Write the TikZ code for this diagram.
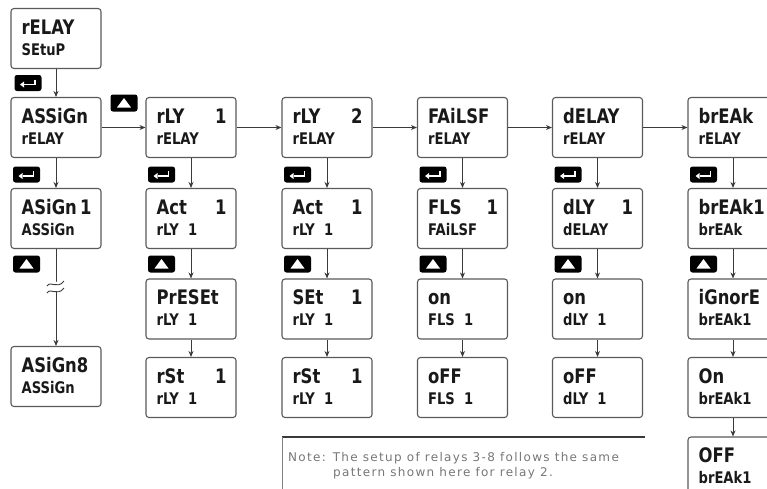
\documentclass[tikz,border=0pt]{standalone}
\usepackage{fontspec}
\setmainfont{DejaVu Sans}
\newfontfamily\lcdfont[FakeStretch=0.82]{DejaVu Sans}
\newfontfamily\notefont[LetterSpace=11]{DejaVu Sans}
\usetikzlibrary{arrows.meta}
\definecolor{boxgray}{HTML}{5A5A5A}
\definecolor{arrgray}{HTML}{3A3A3A}
\definecolor{notegray}{HTML}{777777}
\tikzset{
  dbox/.style={draw=boxgray, line width=1.1pt, rounded corners=3pt, minimum width=90pt, minimum height=60pt, inner sep=0pt, fill=white},
  ta/.style={inner sep=0pt, anchor=base west, text=black!90, font=\lcdfont\bfseries\fontsize{20}{20}\selectfont},
  tb/.style={inner sep=0pt, anchor=base west, text=black!90, font=\lcdfont\bfseries\fontsize{16}{16}\selectfont},
  arr/.style={draw=arrgray, line width=0.9pt, -{Stealth[length=6pt,width=5pt]}},
  keybox/.style={fill=black, rounded corners=2.5pt, minimum width=27pt, minimum height=16pt, inner sep=0pt},
  notetext/.style={inner sep=0pt, anchor=base west, text=notegray, font=\notefont\fontsize{12}{15}\selectfont}
}
\newcommand{\dispbox}[5]{%
  \node[dbox] (#1) at (#2,#3) {};
  \node[ta] (#1-a) at ([xshift=11pt,yshift=-26.5pt]#1.north west) {#4};
  \node[tb] (#1-b) at ([xshift=11pt,yshift=-47.5pt]#1.north west) {#5};
}
\newcommand{\enterkey}[3]{%
  \node[keybox] (#1) at (#2,#3) {};
  \draw[white, line width=1.4pt] ([xshift=7pt,yshift=3.5pt]#1.center) -- ([xshift=7pt,yshift=-1.5pt]#1.center) -- ([xshift=-4pt,yshift=-1.5pt]#1.center);
  \fill[white] ([xshift=-8pt,yshift=-1.5pt]#1.center) -- ([xshift=-4pt,yshift=1.5pt]#1.center) -- ([xshift=-4pt,yshift=-4.5pt]#1.center) -- cycle;
}
\newcommand{\upkey}[3]{%
  \node[keybox, minimum height=17pt] (#1) at (#2,#3) {};
  \fill[white] ([yshift=5pt]#1.center) -- ([xshift=-7pt,yshift=-4.5pt]#1.center) -- ([xshift=7pt,yshift=-4.5pt]#1.center) -- cycle;
}
\newcommand{\one}[2]{\hbox to 70pt{#1\hfill #2}}
\begin{document}
\begin{tikzpicture}[x=1pt,y=-1pt]
\clip (0,0) rectangle (767,488);
\fill[white] (0,0) rectangle (767,488);

% top
\dispbox{top}{56}{38.5}{rELAY}{SEtuP}
% column 1
\dispbox{c1a}{56}{127.5}{ASSiGn}{rELAY}
\dispbox{c1b}{56}{218.5}{\one{ASiGn}{1}}{ASSiGn}
\dispbox{c1c}{56}{376.5}{ASiGn8}{ASSiGn}
% column 2
\dispbox{c2a}{191}{127.5}{\one{rLY}{1}}{rELAY}
\dispbox{c2b}{191}{218.5}{\one{Act}{1}}{rLY\ \ 1}
\dispbox{c2c}{191}{309}{PrESEt}{rLY\ \ 1}
\dispbox{c2d}{191}{387.5}{\one{rSt}{1}}{rLY\ \ 1}
% column 3
\dispbox{c3a}{327}{127.5}{\one{rLY}{2}}{rELAY}
\dispbox{c3b}{327}{218.5}{\one{Act}{1}}{rLY\ \ 1}
\dispbox{c3c}{327}{309}{\one{SEt}{1}}{rLY\ \ 1}
\dispbox{c3d}{327}{387.5}{\one{rSt}{1}}{rLY\ \ 1}
% column 4
\dispbox{c4a}{462.5}{127.5}{FAiLSF}{rELAY}
\dispbox{c4b}{462.5}{218.5}{\one{FLS}{1}}{FAiLSF}
\dispbox{c4c}{462.5}{309}{on}{FLS\ \ 1}
\dispbox{c4d}{462.5}{387.5}{oFF}{FLS\ \ 1}
% column 5
\dispbox{c5a}{597.5}{127.5}{dELAY}{rELAY}
\dispbox{c5b}{597.5}{218.5}{\one{dLY}{1}}{dELAY}
\dispbox{c5c}{597.5}{309}{on}{dLY\ \ 1}
\dispbox{c5d}{597.5}{387.5}{oFF}{dLY\ \ 1}
% column 6
\dispbox{c6a}{733}{127.5}{brEAk}{rELAY}
\dispbox{c6b}{733}{218.5}{\hbox to 63pt{brEAk\hfill 1}}{brEAk}
\dispbox{c6c}{733}{309}{iGnorE}{brEAk1}
\dispbox{c6d}{733}{387.5}{On}{brEAk1}
\dispbox{c6e}{733}{467}{OFF}{brEAk1}

% arrows
\draw[arr] (top) -- (c1a);
\draw[arr] (c1a) -- (c1b);
\draw[arr] (c1b) -- (c1c);
\draw[arr] (c1a) -- (c2a);
\draw[arr] (c2a) -- (c3a);
\draw[arr] (c3a) -- (c4a);
\draw[arr] (c4a) -- (c5a);
\draw[arr] (c5a) -- (c6a);
\foreach \c in {c2,c3,c4,c5,c6}{
  \draw[arr] (\c a) -- (\c b);
  \draw[arr] (\c b) -- (\c c);
  \draw[arr] (\c c) -- (\c d);
}
\draw[arr] (c6d) -- (c6e);

% break mark
\fill[white] (50,284) -- (62,280) -- (62,290) -- (50,294) -- cycle;
\draw[arrgray, line width=0.9pt] (47,286) .. controls (51,280) and (57,290) .. (64,281);
\draw[arrgray, line width=0.9pt] (47,293) .. controls (51,287) and (57,297) .. (64,288);

% keys
\enterkey{k0}{28}{83}
\upkey{ku}{124}{103}
\enterkey{k1}{26.5}{174.5}
\enterkey{k2}{161.5}{174.5}
\enterkey{k3}{297.5}{174.5}
\enterkey{k4}{433}{174.5}
\enterkey{k5}{568}{174.5}
\enterkey{k6}{703.5}{174.5}
\upkey{u1}{26.5}{264}
\upkey{u2}{161.5}{264}
\upkey{u3}{297.5}{264}
\upkey{u4}{433}{264}
\upkey{u5}{568}{264}
\upkey{u6}{703.5}{264}

% note
\coordinate (nl) at (282,437);
\coordinate (nr) at (645,437);
\coordinate (nb) at (282,490);
\draw[arrgray, line width=1.3pt] (nl) -- (nr);
\draw[gray, line width=0.6pt] (nl) -- (nb);
\node[notetext] (note1) at (288,461) {Note: The setup of relays 3-8 follows the same};
\node[notetext] (note2) at (333,476) {pattern shown here for relay 2.};
\end{tikzpicture}
\end{document}
